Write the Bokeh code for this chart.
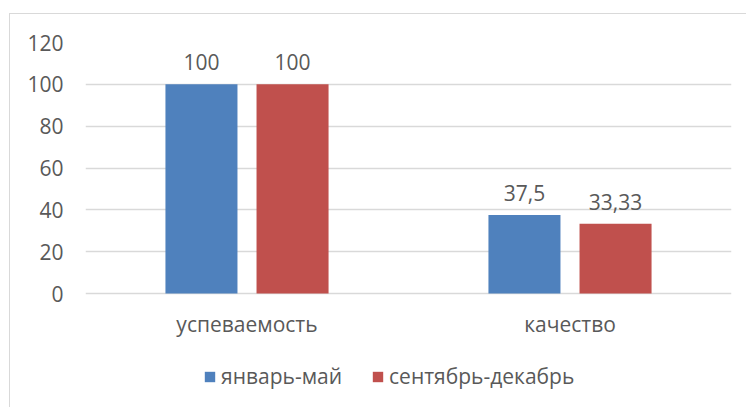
from bokeh.plotting import figure
from bokeh.models import ColumnDataSource, FactorRange, Range1d, Legend, LegendItem, CategoricalAxis
from bokeh.transform import dodge
from bokeh.core.properties import value
from bokeh.embed import file_html
from bokeh.resources import INLINE

categories = ["успеваемость", "качество"]
series_names = ["январь-май", "сентябрь-декабрь"]
jan_may = [100, 37.5]
sep_dec = [100, 33.33]
y_ticks = [0, 20, 40, 60, 80, 100, 120]

colors = ["#4F81BD", "#C0504D"]
FONT = "Open Sans"
FS = "21px"
TXT = "#595959"
GRID = "#D9D9D9"

def fmt(v):
    return f"{v:g}".replace(".", ",")

src = ColumnDataSource(dict(
    cat=categories,
    a=jan_may,
    b=sep_dec,
    la=[fmt(v) for v in jan_may],
    lb=[fmt(v) for v in sep_dec],
))

# value axis: 0..120 spans 251 px; the frame continues 115 px below 0 to hold labels and legend
Y_MIN = -120 * 115 / 251

p = figure(x_range=FactorRange(*categories), y_range=Range1d(Y_MIN, 120),
           width=737, height=394, output_backend="svg", toolbar_location=None,
           x_axis_location=None,
           min_border_left=75, min_border_right=16, min_border_top=28, min_border_bottom=0,
           margin=(13, 0, 0, 9))
p.styles = {"border-top": "1px solid #D9D9D9", "border-left": "1px solid #D9D9D9"}
p.outline_line_color = None

r1 = p.vbar(x=dodge("cat", -0.141, range=p.x_range), top="a", width=0.223, source=src,
            fill_color=colors[0], line_color=None)
r2 = p.vbar(x=dodge("cat", 0.141, range=p.x_range), top="b", width=0.223, source=src,
            fill_color=colors[1], line_color=None)

p.text(x=dodge("cat", -0.141, range=p.x_range), y="a", text="la", source=src,
       text_align="center", text_baseline="bottom", y_offset=-14,
       text_font=value(FONT), text_font_size=FS, text_color=TXT)
p.text(x=dodge("cat", 0.141, range=p.x_range), y="b", text="lb", source=src,
       text_align="center", text_baseline="bottom", y_offset=-14,
       text_font=value(FONT), text_font_size=FS, text_color=TXT)

p.xgrid.grid_line_color = None
p.yaxis.ticker = y_ticks
p.ygrid.grid_line_color = GRID
p.ygrid.grid_line_width = 1.5
p.yaxis.axis_line_color = None
p.yaxis.major_tick_line_color = None
p.yaxis.minor_tick_line_color = None
p.yaxis.major_tick_out = 0
p.yaxis.major_label_standoff = 22
p.yaxis.major_label_text_font = FONT
p.yaxis.major_label_text_font_size = FS
p.yaxis.major_label_text_color = TXT

xaxis = CategoricalAxis(fixed_location=0,
                        axis_line_color=None, major_tick_line_color=None,
                        minor_tick_line_color=None, major_tick_out=0,
                        major_label_standoff=16,
                        major_label_text_font=FONT, major_label_text_font_size=FS,
                        major_label_text_color=TXT)
p.add_layout(xaxis, "below")

legend = Legend(items=[LegendItem(label=series_names[0], renderers=[r1]),
                       LegendItem(label=series_names[1], renderers=[r2])],
                orientation="horizontal", location=(118, 18),
                glyph_width=13, glyph_height=13, label_standoff=5, spacing=29,
                label_text_font=FONT, label_text_font_size=FS, label_text_color=TXT,
                border_line_color=None, background_fill_alpha=0, margin=0, padding=0)
p.add_layout(legend, "center")

open("out.html", "w").write(file_html(p, INLINE))
